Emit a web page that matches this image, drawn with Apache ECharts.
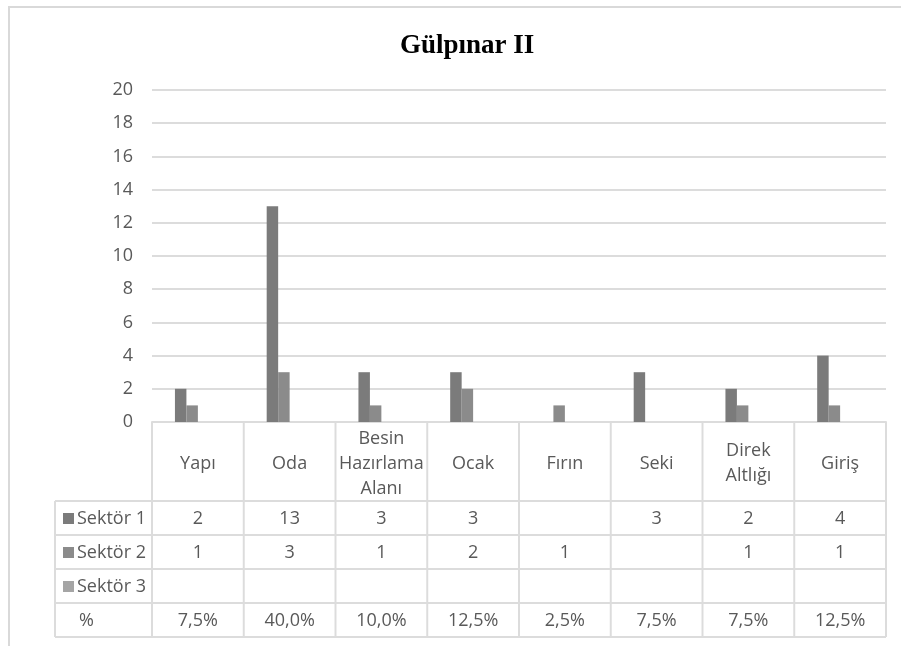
<!DOCTYPE html>
<html>
<head>
<meta charset="utf-8">
<script src="https://cdn.jsdelivr.net/npm/echarts@6/dist/echarts.min.js"></script>
<style>
html,body{margin:0;padding:0;background:#fff;}
#main{width:901px;height:646px;}
</style>
</head>
<body>
<div id="main"></div>
<script>
const titleText = 'Gülpınar II';
const categories = ['Yapı','Oda','Besin Hazırlama Alanı','Ocak','Fırın','Seki','Direk Altlığı','Giriş'];
const seriesNames = ['Sektör 1','Sektör 2','Sektör 3'];
const sektor1 = [2, 13, 3, 3, null, 3, 2, 4];
const sektor2 = [1, 3, 1, 2, 1, null, 1, 1];
const sektor3 = [null, null, null, null, null, null, null, null];
const percent = [7.5, 40.0, 10.0, 12.5, 2.5, 7.5, 7.5, 12.5];
const percentLabel = '%';
const yTicks = [0, 2, 4, 6, 8, 10, 12, 14, 16, 18, 20];

const colors = ['#7b7b7b', '#8b8b8b', '#a5a5a5'];
const gridCol = '#dcdcdc';
const textCol = '#595959';
const FONT = '"Open Sans", "Noto Sans", sans-serif';

const chart = echarts.init(document.getElementById('main'), null, {renderer: 'canvas'});

const barSeries = [sektor1, sektor2, sektor3].map((d, i) => ({
  name: seriesNames[i],
  type: 'bar',
  data: d,
  barGap: '0%',
  barCategoryGap: '50%',
  itemStyle: {color: colors[i]},
  silent: true
}));
barSeries.push({
  name: percentLabel,
  type: 'bar',
  data: percent.map(v => v / 100),
  barGap: '0%',
  barCategoryGap: '50%',
  itemStyle: {color: 'rgba(0,0,0,0)'},
  silent: true
});

chart.setOption({
  animation: false,
  backgroundColor: '#ffffff',
  title: {
    text: titleText,
    left: 395,
    top: 28,
    textStyle: {fontFamily: '"Liberation Serif", "Times New Roman", serif', fontWeight: 'bold', fontSize: 27, color: '#000'}
  },
  grid: {left: 152, right: 15, top: 90, bottom: 224, containLabel: false},
  xAxis: {
    type: 'category',
    data: categories,
    axisLine: {show: true, lineStyle: {color: gridCol, width: 2}},
    axisTick: {show: false},
    axisLabel: {show: false},
    splitLine: {show: false}
  },
  yAxis: {
    type: 'value',
    min: yTicks[0],
    max: yTicks[yTicks.length - 1],
    interval: yTicks[1] - yTicks[0],
    axisLine: {show: false},
    axisTick: {show: false},
    axisLabel: {color: textCol, fontFamily: FONT, fontSize: 18, margin: 19, padding: [4, 0, 0, 0]},
    splitLine: {lineStyle: {color: gridCol, width: 2}}
  },
  series: barSeries
});

// data table drawn from the same axis scale
function buildTable() {
  const xs = categories.map((c, i) => chart.convertToPixel({xAxisIndex: 0}, i));
  const band = xs[1] - xs[0];
  const left = xs[0] - band / 2;
  const right = xs[xs.length - 1] + band / 2;
  const y0 = chart.convertToPixel({yAxisIndex: 0}, 0);
  const headerH = 79;
  const rowH = 34;
  const rowTops = [0, 1, 2, 3].map(r => y0 + headerH + r * rowH);
  const bottom = y0 + headerH + 4 * rowH;
  const tableLeft = 55;
  const els = [];
  const line = (x1, y1, x2, y2) => els.push({
    type: 'line', silent: true,
    shape: {x1, y1, x2, y2},
    style: {stroke: gridCol, lineWidth: 2}
  });
  // outer frame
  els.push({type: 'rect', silent: true, shape: {x: 9, y: 7, width: 900, height: 650},
    style: {fill: 'none', stroke: '#d9d9d9', lineWidth: 2}});
  // horizontal lines
  rowTops.forEach(y => line(tableLeft, y, right, y));
  line(tableLeft, bottom, right, bottom);
  // vertical lines
  line(tableLeft, rowTops[0], tableLeft, bottom);
  for (let i = 0; i <= categories.length; i++) {
    const x = left + i * band;
    line(x, y0, x, bottom);
  }
  const txt = (x, y, s, align) => els.push({
    type: 'text', silent: true, x, y,
    style: {text: s, fill: textCol, font: '18px ' + FONT, align: align || 'center',
      verticalAlign: 'middle', lineHeight: 25}
  });
  // header labels
  categories.forEach((c, i) => txt(xs[i], y0 + headerH / 2 + 2, c.split(' ').join('\n')));
  // rows
  const rows = [sektor1, sektor2, sektor3];
  rows.forEach((d, r) => {
    const yc = rowTops[r] + rowH / 2 + 1;
    els.push({type: 'rect', silent: true, shape: {x: 63, y: yc - 6, width: 11, height: 11},
      style: {fill: colors[r]}});
    txt(77, yc, seriesNames[r], 'left');
    d.forEach((v, i) => { if (v !== null && v !== undefined) txt(xs[i], yc, String(v)); });
  });
  const yp = rowTops[3] + rowH / 2 + 1;
  txt(79, yp, percentLabel, 'left');
  percent.forEach((v, i) => txt(xs[i], yp, v.toFixed(1).replace('.', ',') + '%'));
  chart.setOption({graphic: {elements: els}});
}
buildTable();
</script>
</body>
</html>
